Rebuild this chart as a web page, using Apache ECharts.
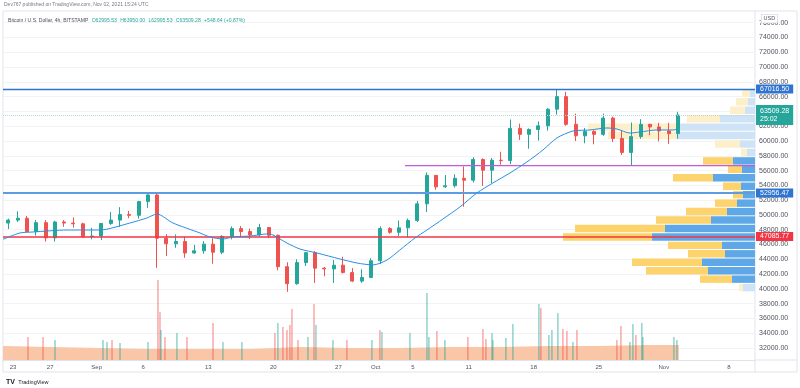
<!DOCTYPE html>
<html><head><meta charset="utf-8">
<script src="https://cdn.jsdelivr.net/npm/echarts@6/dist/echarts.min.js"></script>
<style>html,body{margin:0;padding:0;background:#fff}#c{width:800px;height:388px}</style>
</head><body><div id="c"></div>
<script>
// ---- daily OHLC (BTC/USD, Bitstamp) ----
const dates = ['2021-08-22','2021-08-23','2021-08-24','2021-08-25','2021-08-26','2021-08-27','2021-08-28','2021-08-29','2021-08-30','2021-08-31',
'2021-09-01','2021-09-02','2021-09-03','2021-09-04','2021-09-05','2021-09-06','2021-09-07','2021-09-08','2021-09-09','2021-09-10',
'2021-09-11','2021-09-12','2021-09-13','2021-09-14','2021-09-15','2021-09-16','2021-09-17','2021-09-18','2021-09-19','2021-09-20',
'2021-09-21','2021-09-22','2021-09-23','2021-09-24','2021-09-25','2021-09-26','2021-09-27','2021-09-28','2021-09-29','2021-09-30',
'2021-10-01','2021-10-02','2021-10-03','2021-10-04','2021-10-05','2021-10-06','2021-10-07','2021-10-08','2021-10-09','2021-10-10',
'2021-10-11','2021-10-12','2021-10-13','2021-10-14','2021-10-15','2021-10-16','2021-10-17','2021-10-18','2021-10-19','2021-10-20',
'2021-10-21','2021-10-22','2021-10-23','2021-10-24','2021-10-25','2021-10-26','2021-10-27','2021-10-28','2021-10-29','2021-10-30',
'2021-10-31','2021-11-01','2021-11-02'];
const opens  = [48900,49300,49550,47750,48950,46900,49050,48900,48800,47050, 47150,48850,49300,50050,49950,51800,52700,46850,46100,46400,
44850,45150,46050,44950,47100,48150,47750,47300,48300,47250, 43000,40700,43550,44900,42800,42700,43200,42200,41050,41550,
43800,48150,47650,48250,49250,51500,55350,53800,53950,54950, 54700,57500,56050,57400,57350,61700,60900,61550,62050,64300,
66000,62250,60700,61300,60900,63100,60350,58450,60600,62250, 61900,61350,61000];
const highs  = [49500,50500,49850,49300,49300,49200,49300,49650,48950,48250, 48900,50400,51050,50550,51900,52800,52950,47400,47350,47050,
45950,46450,46850,47250,48450,48500,48150,48800,48350,47350, 43600,44000,44950,45100,42950,43900,44350,42800,42650,44150,
48450,48350,49250,49500,51900,55750,55350,55400,55500,56550, 57800,57650,57700,58550,62900,62350,61700,62650,64450,67016,
66650,63700,61750,61450,63700,63300,61450,62500,62950,62300, 62450,62450,63950];
const lows   = [48100,49050,47650,47200,46400,46400,48400,48300,46900,46700, 46600,48650,48400,49550,49500,50950,42850,44450,45550,44200,
44750,44750,43400,44700,46700,47050,46750,47050,46850,42500, 39600,40550,43100,40800,41700,40800,42100,40900,40800,41450,
43350,47450,47150,46950,49050,50400,53400,53650,53700,51100, 54400,53900,54300,56800,56850,60150,58950,60050,61400,63550,
62050,60000,59700,59550,60700,59850,58100,56661,60300,60800, 59950,59600,60300];
const closes = [49300,49550,47750,48950,46900,49050,48900,48800,47050,47150, 48850,49300,50050,49950,51800,52700,46850,46100,46400,44850,
45150,46050,44950,47100,48150,47750,47300,48300,47250,43000, 40700,43550,44900,42800,42700,43200,42200,41050,41550,43800,
48150,47650,48250,49250,51500,55350,53800,53950,54950,54700, 57500,56050,57400,57350,61700,60900,61550,62050,64300,66000,
62250,60700,61300,60900,63100,60350,58450,60600,62250,61900, 61350,61000,63509.28];

// ---- moving average (days since Aug 23, price) ----
const maDays   = [-1.075,0.75,2.15,5.81,9.35,12.58,14.41,15.48,17.20,20.11,21.18,22.58,23.66,25.48,27.31,27.96,29.46,30.86,32.69,35.16,36.99,38.71,40.22,41.61,43.23,44.52,46.24,48.06,49.89,51.61,53.44,55.27,56.99,58.49,60.22,62.04,63.87,64.95,66.34,67.42,69.25,70.97,71.51];
const maPrices = [46700,47560,47690,47960,47960,48910,49590,50130,48910,47560,47020,46740,47020,47150,47420,47290,46200,45390,44850,44040,43500,43230,43900,45260,46880,47960,49450,51070,52970,54320,55670,57160,58780,60410,61350,61490,61760,61620,61080,61220,61490,61490,61620];

// ---- volume: notable 4h bars (day, volume, up?) and the volume MA ----
const volDays   = [1.61,3.23,4.52,9.68,10.11,10.65,11.51,14.52,15.59,15.81,15.91,16.34,17.63,18.71,21.51,22.58,24.62,28.17,28.49,29.03,29.46,29.78,30.00,30.65,31.72,32.37,32.58,34.41,35.91,38.60,39.46,39.68,42.69,44.52,44.73,45.59,46.45,48.92,50.54,50.86,51.51,51.61,53.01,53.76,56.56,56.77,57.63,57.96,58.60,59.14,59.57,60.22,60.65,64.95,65.38,66.34,66.67,66.99,67.63,67.74,71.08,71.40];
const volValues = [697,697,606,606,545,606,515,545,2424,1454,909,697,818,697,1121,545,545,818,1121,1000,909,1060,1545,606,697,1697,1060,606,606,606,909,848,818,2030,697,879,606,697,939,636,818,606,667,1091,1697,1576,758,909,1424,939,879,545,909,606,1030,545,1091,758,1121,697,697,606];
const volUp     = [0,0,1, 1,1,0,1, 1, 0,0,1,0, 1,0, 0,1,1, 0,1,0,0,0,0,0, 1,0,1, 1,0, 1,0,1, 1,1,1,0,1, 0,0,0,1,1, 1,1, 1,0,1,1,1, 0,0,1,0, 0,0,1,1,0,1,1, 1,1];
const volMaDays   = [-1.075,3.98,9.35,14.73,20.11,25.48,30.86,36.24,41.61,46.99,52.37,57.74,63.12,68.49,71.61];
const volMaValues = [424,394,364,333,333,333,394,364,364,394,394,424,424,455,454];

// ---- visible range volume profile (24 rows, bottom to top) ----
const vpLow = 39600, vpHigh = 67016.5;
const vpBlue   = [12,23,47,53,30,33,103,90,44,28,18,12,14,42,13,22,8,15,77,78,35,10,7,5];
const vpYellow = [4,32,62,70,37,54,89,90,55,41,22,10,18,40,14,30,6,25,70,89,33,15,12,8];
const vpValueArea = [1, 15];

// ---- axis ticks ----
const tickDates  = ['2021-08-23','2021-08-27','2021-09-01','2021-09-06','2021-09-13','2021-09-20','2021-09-27','2021-10-01','2021-10-05','2021-10-11','2021-10-18','2021-10-25','2021-11-01','2021-11-08'];
const tickLabels = ['23','27','Sep','6','13','20','27','Oct','5','11','18','25','Nov','8'];

// ---- price levels ----
const lastPrice = 63509.28, lastCountdown = '25:02';
const pocLabel = 61381.10;
const levelTop = 67016.50, levelMid = 52956.47, levelRed = 47085.77;
const levelPurple = 56661.00, levelPurpleStart = 42.15;
const volMaLast = 454, volLast = 394;

const DAY0 = Date.UTC(2021,7,23);
const dayOf = s => (Date.parse(s + 'T00:00:00Z') - DAY0) / 864e5;
const X_MIN = -1.075, X_MAX = 79.8, Y_MIN = 30000, Y_MAX = 78000;
const G_TOP = 7.9, G_H = 354.9;
const yPix = p => G_TOP + (Y_MAX - p) / (Y_MAX - Y_MIN) * G_H;
const FONT = 'Liberation Sans, Arial, sans-serif';
const tickDays = tickDates.map(dayOf);

const inVA = i => i >= vpValueArea[0] && i <= vpValueArea[1];
const rows = vpBlue.map((_, i) => String(i));

const lbl = (txt, bg, extra) => Object.assign({formatter: txt, backgroundColor: bg}, extra || {});
const MLABEL = {show: true, position: 'end', distance: 1, color: '#fff', fontSize: 7, padding: [1, 4], fontFamily: FONT};

const chart = echarts.init(document.getElementById('c'), null, {renderer: 'canvas'});
chart.setOption({
  animation: false,
  backgroundColor: '#fff',
  textStyle: {fontFamily: FONT},
  grid: [
    {left: 3, right: 45, top: G_TOP, height: G_H},
    {left: 3, right: 45, top: 265, height: 95},
    {left: 545, right: 45, top: yPix(vpHigh), height: yPix(vpLow) - yPix(vpHigh)}
  ],
  xAxis: [
    {gridIndex: 0, type: 'value', min: X_MIN, max: X_MAX, show: false},
    {gridIndex: 1, type: 'value', min: X_MIN, max: X_MAX,
      axisLine: {show: true, lineStyle: {color: '#e0e3eb'}}, axisTick: {show: false}, splitLine: {show: false},
      axisLabel: {customValues: tickDays, fontSize: 6, color: '#50535e', margin: 4, fontFamily: FONT,
        formatter: v => { const k = tickDays.findIndex(t => Math.abs(t - v) < 1e-6); return k >= 0 ? tickLabels[k] : ''; }}},
    {gridIndex: 2, type: 'value', min: 0, max: 210, inverse: true, show: false}
  ],
  yAxis: [
    {gridIndex: 0, type: 'value', position: 'right', min: Y_MIN, max: Y_MAX, interval: 2000,
      axisLine: {show: false}, axisTick: {show: false},
      splitLine: {show: true, showMinLine: false, showMaxLine: false, lineStyle: {color: '#f2f3f6'}},
      axisLabel: {formatter: v => v.toFixed(2), fontSize: 7, color: '#50535e', margin: 4, fontFamily: FONT, showMinLabel: false, showMaxLabel: false}},
    {gridIndex: 1, type: 'value', min: 0, max: 2880, show: false},
    {gridIndex: 2, type: 'category', data: rows, show: false}
  ],
  graphic: [
    {type: 'rect', shape: {x: 3, y: 11, width: 794, height: 361}, style: {fill: 'none', stroke: '#e0e3eb', lineWidth: 1}, z: 0, silent: true},
    {type: 'line', shape: {x1: 755, y1: 11, x2: 755, y2: 372}, style: {stroke: '#e0e3eb', lineWidth: 1}, z: 0, silent: true},
    {type: 'line', shape: {x1: 755, y1: 360, x2: 797, y2: 360}, style: {stroke: '#e0e3eb', lineWidth: 1}, z: 0, silent: true},
    {type: 'text', left: 4, top: 2, z: 10, style: {text: 'Dev767 published on TradingView.com, Nov 02, 2021 15:24 UTC', fontSize: 5, fill: '#787b86', fontFamily: FONT}},
    {type: 'text', left: 8, top: 15, z: 10, style: {
      text: '{t|Bitcoin / U.S. Dollar, 4h, BITSTAMP} {v|O62995.53} {v|H63950.00} {v|L62995.53} {v|C63509.28} {v|+548.64 (+0.87%)}',
      rich: {t: {fontSize: 5.1, fill: '#4a4e5a', fontFamily: FONT}, v: {fontSize: 5.1, fill: '#26a69a', fontFamily: FONT}}}},
    {type: 'text', left: 761, top: 14, z: 20, style: {text: 'USD', fontSize: 5.5, fill: '#50535e', fontFamily: FONT, backgroundColor: '#fff', borderColor: '#d1d4dc', borderWidth: 0.6, padding: [1, 2]}},
    {type: 'text', left: 6, top: 376, z: 10, style: {text: '{b|TV} {n|TradingView}',
      rich: {b: {fontSize: 7, fontWeight: 'bold', fill: '#131722', fontFamily: FONT}, n: {fontSize: 5.5, fill: '#131722', fontFamily: FONT}}}}
  ],
  series: [
    {type: 'bar', name: 'vpUp', xAxisIndex: 2, yAxisIndex: 2, stack: 'vp', barCategoryGap: '12%', z: 1, silent: true,
      data: vpBlue.map((v, i) => ({value: v, itemStyle: {color: inVA(i) ? '#5ea8e8' : '#cfe3f7'}}))},
    {type: 'bar', name: 'vpDown', xAxisIndex: 2, yAxisIndex: 2, stack: 'vp', barCategoryGap: '12%', z: 1, silent: true,
      data: vpYellow.map((v, i) => ({value: v, itemStyle: {color: inVA(i) ? '#fcd36c' : '#fdefc9'}}))},
    {type: 'line', name: 'volMA', xAxisIndex: 1, yAxisIndex: 1, symbol: 'none', z: 1, silent: true,
      lineStyle: {width: 0}, areaStyle: {color: '#f9c6a8', opacity: 1},
      data: volMaDays.map((d, i) => [d, volMaValues[i]])},
    {type: 'bar', name: 'vol', xAxisIndex: 1, yAxisIndex: 1, barWidth: 1.5, z: 2, silent: true,
      data: volDays.map((d, i) => ({value: [d, volValues[i]], itemStyle: {color: volUp[i] ? 'rgba(38,166,154,0.5)' : 'rgba(239,83,80,0.5)'}})),
      markLine: {silent: true, symbol: ['none', 'none'], lineStyle: {opacity: 0},
        label: {show: true, position: 'end', distance: 1, color: '#fff', fontSize: 6.5, padding: [1, 6], fontFamily: FONT},
        data: [
          {yAxis: volMaLast, label: lbl(String(volMaLast), '#f5a062')},
          {yAxis: volLast, label: lbl(String(volLast), '#26a69a', {offset: [0, 6]})}
        ]}},
    {type: 'candlestick', name: 'BTCUSD', xAxisIndex: 0, yAxisIndex: 0, z: 3, barWidth: 3.5, silent: true,
      encode: {x: 0, y: [1, 2, 3, 4]},
      itemStyle: {color: '#26a69a', color0: '#ef5350', borderColor: '#26a69a', borderColor0: '#ef5350', borderWidth: 1},
      data: dates.map((s, i) => [dayOf(s) + 0.5, opens[i], closes[i], lows[i], highs[i]])},
    {type: 'line', name: 'purpleLevel', xAxisIndex: 0, yAxisIndex: 0, z: 5, symbol: 'none', clip: false, silent: true,
      lineStyle: {color: '#c45ad6', width: 1.3},
      data: [[levelPurpleStart, levelPurple], [X_MAX, levelPurple]],
      markLine: {silent: true, symbol: ['none', 'none'], lineStyle: {opacity: 0}, label: MLABEL,
        data: [{yAxis: levelPurple, label: lbl(levelPurple.toFixed(2), '#a84bbd')}]}},
    {type: 'line', name: 'MA', xAxisIndex: 0, yAxisIndex: 0, z: 5, symbol: 'none', smooth: 0.25, clip: false, silent: true,
      lineStyle: {color: '#2a8fe0', width: 1},
      data: maDays.map((d, i) => [d, maPrices[i]]),
      markLine: {silent: true, symbol: ['none', 'none'], label: MLABEL,
        data: [
          {yAxis: levelTop, lineStyle: {color: '#2f74d0', width: 1.4, type: 'solid'}, label: lbl(levelTop.toFixed(2), '#2f74d0')},
          {yAxis: lastPrice, lineStyle: {color: '#b5d9d4', width: 1, type: 'dotted'}, label: lbl(lastPrice.toFixed(2) + '\n' + lastCountdown, '#26a69a', {lineHeight: 8, padding: [2, 4]})},
          {yAxis: pocLabel, lineStyle: {opacity: 0}, label: lbl(pocLabel.toFixed(2), '#2196f3')},
          {yAxis: levelMid, lineStyle: {color: '#5b9de0', width: 2, type: 'solid'}, label: lbl(levelMid.toFixed(2), '#2f74d0')},
          {yAxis: levelRed, lineStyle: {color: '#f23645', width: 1.5, type: 'solid'}, label: lbl(levelRed.toFixed(2), '#f23645')}
        ]}}
  ]
});
</script></body></html>
